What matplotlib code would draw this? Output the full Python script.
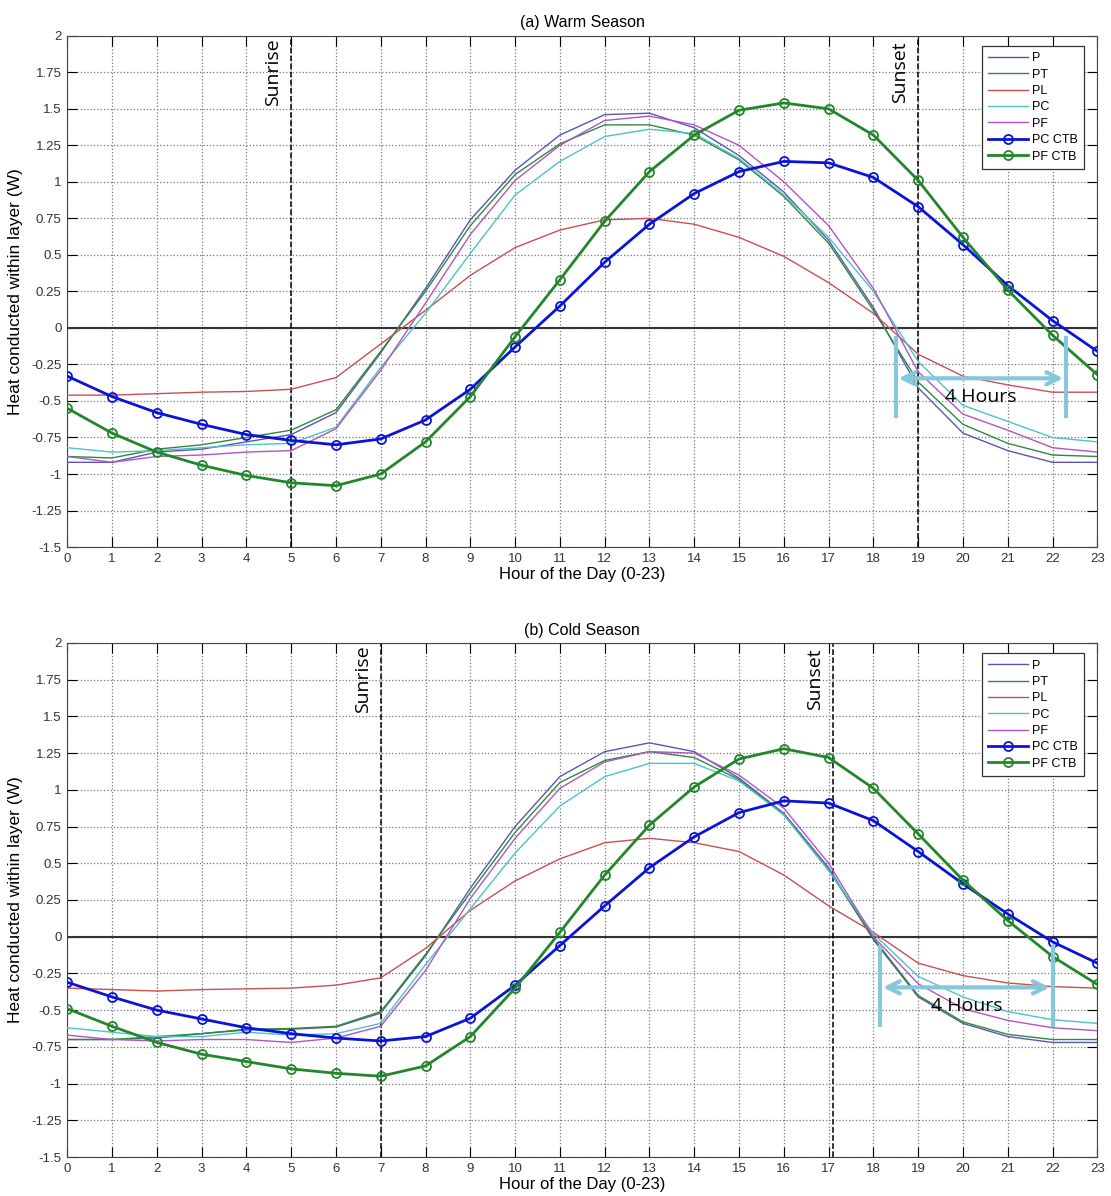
import numpy as np
import matplotlib
matplotlib.use("Agg")
import matplotlib.pyplot as plt
from matplotlib.ticker import FuncFormatter

plt.rcParams['font.family'] = ['Liberation Sans', 'DejaVu Sans']
plt.rcParams['axes.unicode_minus'] = False

hours = list(range(24))
series_names = ['P', 'PT', 'PL', 'PC', 'PF', 'PC CTB', 'PF CTB']

# (a) warm season
warm_p = [-0.92, -0.92, -0.85, -0.83, -0.78, -0.73, -0.58, -0.17, 0.27, 0.74, 1.08, 1.32,
          1.46, 1.47, 1.37, 1.18, 0.93, 0.60, 0.14, -0.41, -0.72, -0.84, -0.92, -0.92]
warm_pt = [-0.88, -0.89, -0.83, -0.80, -0.75, -0.70, -0.56, -0.16, 0.25, 0.70, 1.05, 1.26,
           1.39, 1.39, 1.32, 1.15, 0.90, 0.58, 0.12, -0.37, -0.66, -0.79, -0.87, -0.88]
warm_pl = [-0.46, -0.46, -0.45, -0.44, -0.435, -0.42, -0.34, -0.11, 0.12, 0.36, 0.55, 0.67,
           0.74, 0.75, 0.71, 0.62, 0.49, 0.31, 0.10, -0.18, -0.33, -0.39, -0.44, -0.44]
warm_pc = [-0.82, -0.85, -0.84, -0.82, -0.80, -0.79, -0.68, -0.27, 0.10, 0.51, 0.91, 1.14,
           1.31, 1.36, 1.33, 1.16, 0.91, 0.62, 0.25, -0.23, -0.53, -0.64, -0.75, -0.78]
warm_pf = [-0.88, -0.92, -0.88, -0.87, -0.85, -0.84, -0.69, -0.29, 0.17, 0.64, 1.01, 1.25,
           1.42, 1.45, 1.39, 1.25, 1.00, 0.70, 0.27, -0.30, -0.59, -0.70, -0.82, -0.85]
warm_pc_ctb = [-0.33, -0.47, -0.58, -0.66, -0.73, -0.77, -0.80, -0.76, -0.63, -0.42, -0.13, 0.15,
               0.45, 0.71, 0.92, 1.07, 1.14, 1.13, 1.03, 0.83, 0.57, 0.29, 0.05, -0.16]
warm_pf_ctb = [-0.55, -0.72, -0.85, -0.94, -1.01, -1.06, -1.08, -1.00, -0.78, -0.47, -0.06, 0.33,
               0.73, 1.07, 1.32, 1.49, 1.54, 1.50, 1.32, 1.01, 0.62, 0.26, -0.05, -0.32]

# (b) cold season
cold_p = [-0.70, -0.70, -0.69, -0.66, -0.635, -0.63, -0.615, -0.52, -0.13, 0.33, 0.75, 1.09,
          1.26, 1.32, 1.26, 1.08, 0.84, 0.47, -0.02, -0.41, -0.59, -0.68, -0.72, -0.72]
cold_pt = [-0.70, -0.70, -0.68, -0.66, -0.63, -0.625, -0.61, -0.51, -0.12, 0.30, 0.71, 1.05,
           1.20, 1.26, 1.22, 1.07, 0.83, 0.455, -0.01, -0.40, -0.58, -0.665, -0.70, -0.70]
cold_pl = [-0.35, -0.36, -0.37, -0.36, -0.355, -0.35, -0.33, -0.28, -0.08, 0.18, 0.38, 0.53,
           0.64, 0.67, 0.64, 0.58, 0.42, 0.21, 0.03, -0.18, -0.265, -0.315, -0.34, -0.35]
cold_pc = [-0.62, -0.65, -0.68, -0.68, -0.65, -0.67, -0.66, -0.59, -0.19, 0.19, 0.57, 0.89,
           1.09, 1.18, 1.18, 1.06, 0.83, 0.45, 0.02, -0.27, -0.41, -0.51, -0.565, -0.59]
cold_pf = [-0.67, -0.70, -0.71, -0.70, -0.70, -0.72, -0.69, -0.61, -0.23, 0.26, 0.67, 1.01,
           1.19, 1.26, 1.25, 1.10, 0.875, 0.50, 0.0, -0.32, -0.49, -0.57, -0.62, -0.64]
cold_pc_ctb = [-0.31, -0.41, -0.50, -0.56, -0.62, -0.66, -0.69, -0.71, -0.68, -0.555, -0.33, -0.06,
               0.21, 0.47, 0.68, 0.845, 0.925, 0.91, 0.79, 0.58, 0.36, 0.155, -0.035, -0.18]
cold_pf_ctb = [-0.49, -0.61, -0.72, -0.80, -0.85, -0.90, -0.93, -0.95, -0.88, -0.68, -0.35, 0.03,
               0.42, 0.76, 1.02, 1.21, 1.28, 1.22, 1.01, 0.70, 0.385, 0.11, -0.135, -0.325]

warm = [warm_p, warm_pt, warm_pl, warm_pc, warm_pf, warm_pc_ctb, warm_pf_ctb]
cold = [cold_p, cold_pt, cold_pl, cold_pc, cold_pf, cold_pc_ctb, cold_pf_ctb]

# sunrise / sunset hours and the "4 Hours" span per season
warm_sun = (5.0, 19.0)
cold_sun = (7.0, 17.1)
warm_span = (18.5, 22.3)
cold_span = (18.15, 22.0)

colors = ['#5a55b4', '#2f8a3f', '#c9504f', '#4cc3c8', '#b255c4', '#0a14d8', '#23862a']
yticks = np.arange(-1.5, 2.01, 0.25)


def draw_panel(ax, data, sun, span, title):
    for i, (name, vals) in enumerate(zip(series_names, data)):
        if 'CTB' in name:
            ax.plot(hours, vals, color=colors[i], lw=2, marker='o', ms=6.5,
                    mfc='none', mew=1.3, label=name, zorder=4)
        else:
            ax.plot(hours, vals, color=colors[i], lw=1, label=name, zorder=3)

    ax.axhline(0, color='#333333', lw=1.5, zorder=2)
    ax.axvline(sun[0], color='black', ls='--', lw=1.1, zorder=2)
    ax.axvline(sun[1], color='black', ls='--', lw=1.1, zorder=2)
    ax.text(sun[0] - 0.2, 1.75, 'Sunrise', rotation=90, ha='right', va='center',
            fontsize=14, family=['Open Sans', 'DejaVu Sans'])
    ax.text(sun[1] - 0.2, 1.75, 'Sunset', rotation=90, ha='right', va='center',
            fontsize=14, family=['Open Sans', 'DejaVu Sans'])

    # four hour lag marker
    lb = '#86c7dc'
    ax.plot([span[0], span[0]], [-0.07, -0.6], color=lb, lw=3, zorder=5)
    ax.plot([span[1], span[1]], [-0.07, -0.6], color=lb, lw=3, zorder=5)
    ax.annotate('', xy=(span[1], -0.345), xytext=(span[0], -0.345),
                arrowprops=dict(arrowstyle='<->', color=lb, lw=3, mutation_scale=22),
                zorder=5)
    ax.text((span[0] + span[1]) / 2, -0.47, '4 Hours', ha='center', va='center',
            fontsize=14, family=['Open Sans', 'DejaVu Sans'], zorder=6)

    ax.set_xlim(0, 23)
    ax.set_ylim(-1.5, 2)
    ax.set_xticks(hours)
    ax.set_yticks(yticks)
    ax.yaxis.set_major_formatter(FuncFormatter(lambda v, _: f'{v:g}'))
    ax.tick_params(direction='in', top=True, right=True, length=7, labelsize=9.5,
                   labelcolor='#333333', pad=4)
    ax.grid(True, ls=':', color='#777777', lw=0.9)
    for s in ax.spines.values():
        s.set_color('#444444')
    ax.set_title(title, fontsize=11.5, pad=6)
    ax.set_xlabel('Hour of the Day (0-23)', fontsize=12, labelpad=2)
    ax.set_ylabel('Heat conducted within layer (W)', fontsize=12.5, labelpad=6)
    leg = ax.legend(loc='upper right', fontsize=9, handlelength=3.2, labelspacing=0.35,
                    fancybox=False, framealpha=1, edgecolor='#333333',
                    borderpad=0.5, handletextpad=0.3, bbox_to_anchor=(0.993, 0.992))
    leg.get_frame().set_linewidth(0.9)


fig = plt.figure(figsize=(11.11, 11.96), dpi=100)
ax1 = fig.add_axes([0.0605, 0.5426, 0.9272, 0.4275])
ax2 = fig.add_axes([0.0605, 0.0326, 0.9272, 0.4298])
draw_panel(ax1, warm, warm_sun, warm_span, '(a) Warm Season')
draw_panel(ax2, cold, cold_sun, cold_span, '(b) Cold Season')

fig.savefig('out.png', dpi=100)
